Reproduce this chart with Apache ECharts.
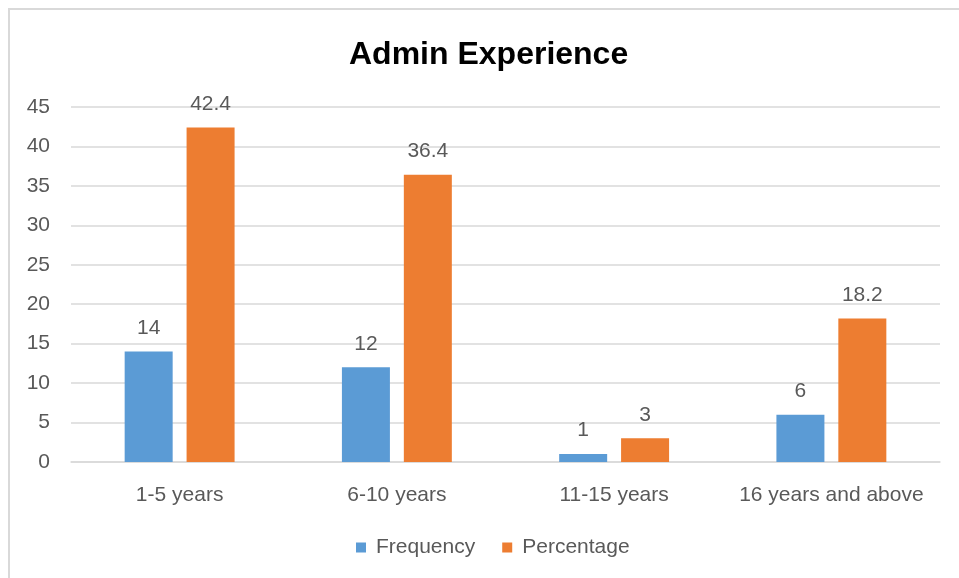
<!DOCTYPE html>
<html>
<head>
<meta charset="utf-8">
<script src="https://cdn.jsdelivr.net/npm/echarts@6/dist/echarts.min.js"></script>
<style>
  html, body { margin: 0; padding: 0; background: #fff; }
  #wrap { position: relative; width: 959px; height: 578px; overflow: hidden; }
  #chart { width: 959px; height: 578px; }
  #frame {
    position: absolute; left: 8px; top: 8px; width: 2000px; height: 2000px;
    border-top: 2px solid #d9d9d9; border-left: 2px solid #d9d9d9; pointer-events: none;
  }
</style>
</head>
<body>
<div id="wrap">
  <div id="chart"></div>
  <div id="frame"></div>
</div>
<script>
// data
const categories = ['1-5 years', '6-10 years', '11-15 years', '16 years and above']
const frequency = [14, 12, 1, 6]
const percentage = [42.4, 36.4, 3, 18.2]
const yTicks = { min: 0, max: 45, interval: 5 }

const FONT = '"Liberation Sans", Arial, sans-serif'
const TEXT = '#595959'

const chart = echarts.init(document.getElementById('chart'))

const label = {
  show: true, position: 'top', distance: 13,
  color: TEXT, fontSize: 21, fontFamily: FONT
}

chart.setOption({
  backgroundColor: '#fff',
  animation: false,
  textStyle: { fontFamily: FONT },
  title: {
    text: 'Admin Experience', left: 344, top: 34,
    textStyle: { fontSize: 32, fontWeight: 'bold', color: '#000', fontFamily: FONT }
  },
  legend: {
    bottom: 15, left: 351, itemWidth: 10, itemHeight: 10, itemGap: 27,
    icon: 'rect',
    textStyle: { color: TEXT, fontSize: 21, fontFamily: FONT, padding: [0, 0, 0, 5] },
    data: ['Frequency', 'Percentage']
  },
  grid: { left: 71, right: 19, top: 107, bottom: 116 },
  xAxis: {
    type: 'category', data: categories,
    axisLine: { lineStyle: { color: '#d9d9d9', width: 1.5 } },
    axisTick: { show: false },
    axisLabel: { color: TEXT, fontSize: 21, margin: 23, interval: 0, fontFamily: FONT }
  },
  yAxis: {
    type: 'value', min: yTicks.min, max: yTicks.max, interval: yTicks.interval,
    axisLine: { show: false }, axisTick: { show: false },
    axisLabel: { color: TEXT, fontSize: 21, margin: 21, fontFamily: FONT },
    splitLine: { lineStyle: { color: '#d9d9d9', width: 1.5 } }
  },
  series: [
    {
      name: 'Frequency', type: 'bar', data: frequency,
      barWidth: 48, barGap: '29%',
      itemStyle: { color: '#5B9BD5' }, label
    },
    {
      name: 'Percentage', type: 'bar', data: percentage,
      barWidth: 48,
      itemStyle: { color: '#ED7D31' }, label
    }
  ]
})
</script>
</body>
</html>
